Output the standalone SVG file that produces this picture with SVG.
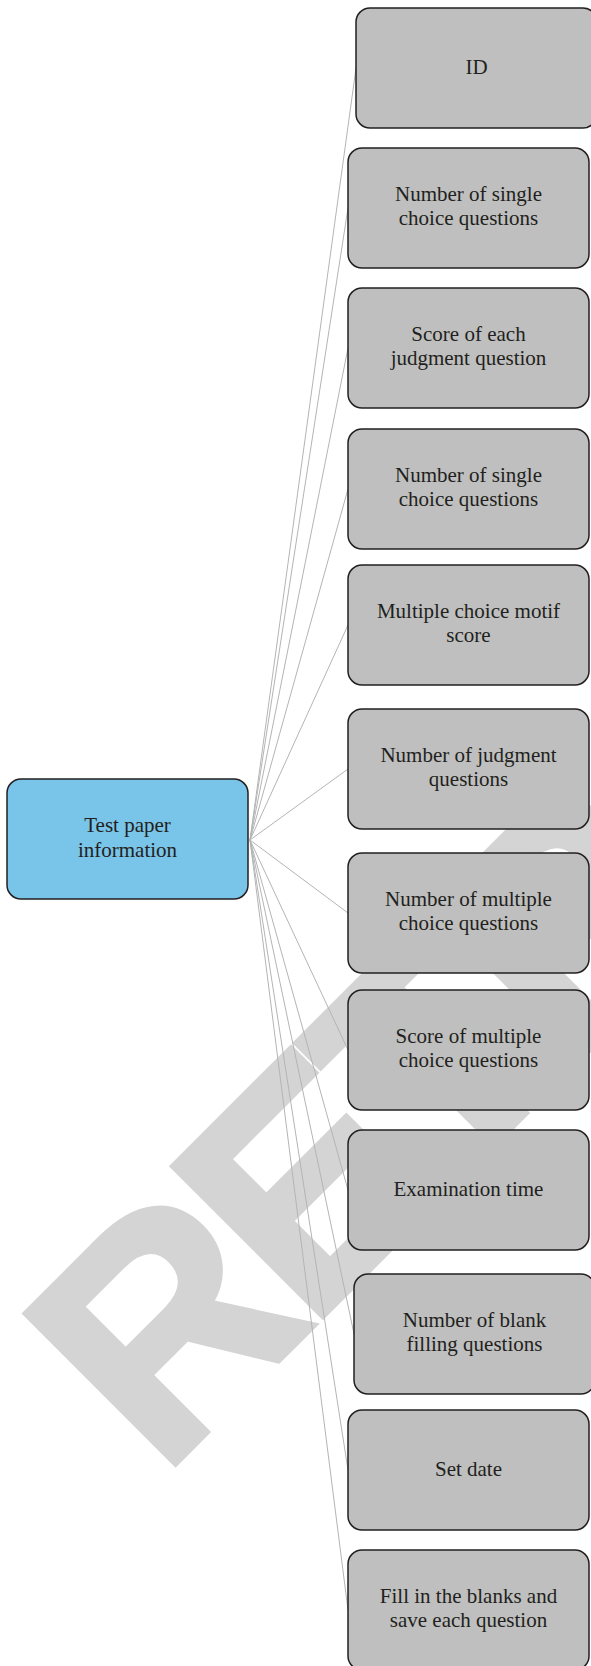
<svg xmlns="http://www.w3.org/2000/svg" width="591" height="1666" viewBox="0 0 591 1666">
  <style>
    .mark { font-family: "Liberation Sans", Arial, sans-serif; font-weight: bold; font-size: 308px; fill: #d4d4d4; stroke: #d4d4d4; stroke-width: 6; stroke-linejoin: miter; }
    .link { stroke: #b4b4b4; stroke-width: 1; fill: none; }
    .box { fill: #bebfbe; stroke: #231f20; stroke-width: 1.5; }
    .root { fill: #79c4e9; stroke: #231f20; stroke-width: 1.5; }
    .label { font-family: "Liberation Serif", "Times New Roman", serif; font-size: 21px; fill: #231f20; text-anchor: middle; }
  </style>

  <!-- background stamp, set on a 45 degree diagonal -->
  <text class="mark" transform="translate(161,1478) rotate(-45)" letter-spacing="-14">RETRACTED</text>

  <!-- connectors from the root to each field -->
  <g id="connectors">
    <line class="link" x1="250" y1="840" x2="356" y2="68"/>
    <line class="link" x1="250" y1="840" x2="348" y2="208"/>
    <line class="link" x1="250" y1="840" x2="348" y2="348"/>
    <line class="link" x1="250" y1="840" x2="348" y2="489"/>
    <line class="link" x1="250" y1="840" x2="348" y2="625"/>
    <line class="link" x1="250" y1="840" x2="348" y2="769"/>
    <line class="link" x1="250" y1="840" x2="348" y2="913"/>
    <line class="link" x1="250" y1="840" x2="348" y2="1050"/>
    <line class="link" x1="250" y1="840" x2="348" y2="1190"/>
    <line class="link" x1="250" y1="840" x2="354" y2="1334"/>
    <line class="link" x1="250" y1="840" x2="348" y2="1470"/>
    <line class="link" x1="250" y1="840" x2="348" y2="1610"/>
  </g>

  <g id="root">
    <rect class="root" x="7" y="779" width="241" height="120" rx="14"/>
    <text class="label" x="127.5" y="832">Test paper</text>
    <text class="label" x="127.5" y="857">information</text>
  </g>

  <g id="n1">
    <rect class="box" x="356" y="8" width="241" height="120" rx="14"/>
    <text class="label" x="476.5" y="74">ID</text>
  </g>
  <g id="n2">
    <rect class="box" x="348" y="148" width="241" height="120" rx="14"/>
    <text class="label" x="468.5" y="201">Number of single</text>
    <text class="label" x="468.5" y="225">choice questions</text>
  </g>
  <g id="n3">
    <rect class="box" x="348" y="288" width="241" height="120" rx="14"/>
    <text class="label" x="468.5" y="341">Score of each</text>
    <text class="label" x="468.5" y="365">judgment question</text>
  </g>
  <g id="n4">
    <rect class="box" x="348" y="429" width="241" height="120" rx="14"/>
    <text class="label" x="468.5" y="482">Number of single</text>
    <text class="label" x="468.5" y="506">choice questions</text>
  </g>
  <g id="n5">
    <rect class="box" x="348" y="565" width="241" height="120" rx="14"/>
    <text class="label" x="468.5" y="618">Multiple choice motif</text>
    <text class="label" x="468.5" y="642">score</text>
  </g>
  <g id="n6">
    <rect class="box" x="348" y="709" width="241" height="120" rx="14"/>
    <text class="label" x="468.5" y="762">Number of judgment</text>
    <text class="label" x="468.5" y="786">questions</text>
  </g>
  <g id="n7">
    <rect class="box" x="348" y="853" width="241" height="120" rx="14"/>
    <text class="label" x="468.5" y="906">Number of multiple</text>
    <text class="label" x="468.5" y="930">choice questions</text>
  </g>
  <g id="n8">
    <rect class="box" x="348" y="990" width="241" height="120" rx="14"/>
    <text class="label" x="468.5" y="1043">Score of multiple</text>
    <text class="label" x="468.5" y="1067">choice questions</text>
  </g>
  <g id="n9">
    <rect class="box" x="348" y="1130" width="241" height="120" rx="14"/>
    <text class="label" x="468.5" y="1196">Examination time</text>
  </g>
  <g id="n10">
    <rect class="box" x="354" y="1274" width="241" height="120" rx="14"/>
    <text class="label" x="474.5" y="1327">Number of blank</text>
    <text class="label" x="474.5" y="1351">filling questions</text>
  </g>
  <g id="n11">
    <rect class="box" x="348" y="1410" width="241" height="120" rx="14"/>
    <text class="label" x="468.5" y="1476">Set date</text>
  </g>
  <g id="n12">
    <rect class="box" x="348" y="1550" width="241" height="120" rx="14"/>
    <text class="label" x="468.5" y="1603">Fill in the blanks and</text>
    <text class="label" x="468.5" y="1627">save each question</text>
  </g>
</svg>
